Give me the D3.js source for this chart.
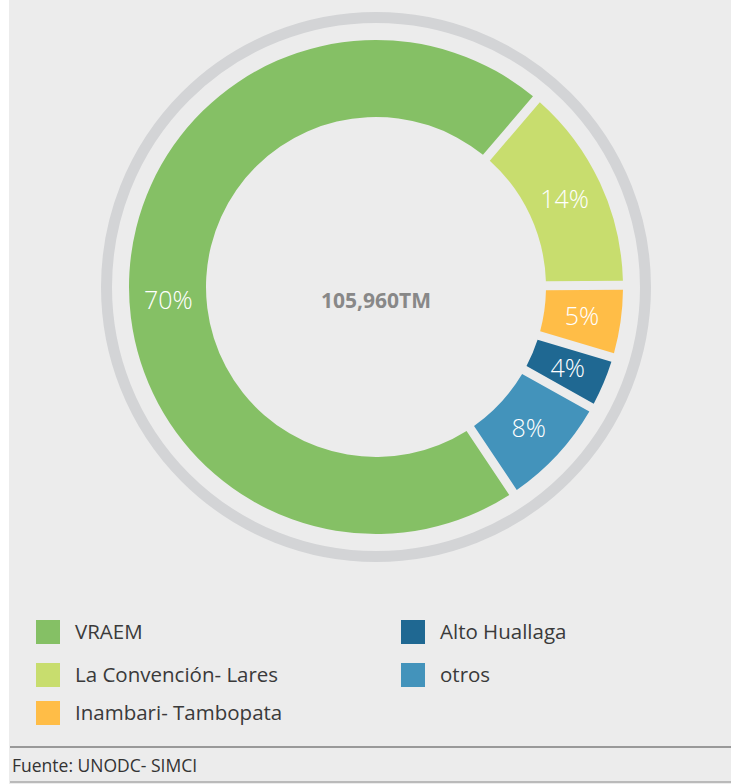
<!DOCTYPE html>
<html lang="es">
<head>
<meta charset="UTF-8">
<title>Producción de cocaína por zona</title>
<script src="https://d3js.org/d3.v7.min.js"></script>
<style>
  body { margin: 0; background: #fff; }
  svg { display: block; }
</style>
</head>
<body>
<div id="chart"></div>
<script>
// data (shares estimated from the arc sizes, labels rounded)
var zonas = ["VRAEM", "La Convención- Lares", "Inambari- Tambopata", "Alto Huallaga", "otros"];
var porcentajes = [70.4, 13.6, 4.7, 3.5, 7.5];
var colores = ["#85c065", "#c8dd6e", "#ffbd47", "#1f6892", "#4393bb"];
var total = "105,960TM";
var fuente = "Fuente: UNODC- SIMCI";

// legend layout: two columns
var leyendaCol = [0, 0, 0, 1, 1];
var leyendaFila = [0, 1, 2, 0, 1];

var width = 731, height = 784;
var cx = 376, cy = 287;
var outerR = 247, innerR = 170, labelR = 208;
// the big slice's label sits a little below its mid angle in the original
var labelNudge = [-7 * Math.PI / 180, 0, 0, 0, 0];

var svg = d3.select("#chart")
    .append("svg")
    .attr("width", width)
    .attr("height", height);

// panel background
svg.append("rect")
    .attr("x", 9).attr("y", 0)
    .attr("width", width - 9).attr("height", height)
    .attr("fill", "#ececec");

var g = svg.append("g")
    .attr("transform", "translate(" + cx + "," + cy + ")");

// outer grey ring
g.append("circle")
    .attr("r", 269.5)
    .attr("fill", "none")
    .attr("stroke", "#d3d4d6")
    .attr("stroke-width", 11);

var start = 146.3 * Math.PI / 180;
var pie = d3.pie()
    .sort(null)
    .startAngle(start)
    .endAngle(start + 2 * Math.PI);

// gaps are cut out of each slice symmetrically, boundaries stay at the true shares
var arc = d3.arc()
    .innerRadius(innerR)
    .outerRadius(outerR)
    .padAngle(0.03);

var arcs = pie(porcentajes);

g.selectAll("path.slice")
    .data(arcs)
    .enter().append("path")
    .attr("class", "slice")
    .attr("d", arc)
    .attr("fill", function(d, i) { return colores[i]; });

g.selectAll("text.pct")
    .data(arcs)
    .enter().append("text")
    .attr("class", "pct")
    .attr("transform", function(d, i) {
        var a = (d.startAngle + d.endAngle) / 2 + labelNudge[i];
        return "translate(" + (labelR * Math.sin(a)) + "," + (-labelR * Math.cos(a)) + ")";
    })
    .attr("text-anchor", "middle")
    .attr("dy", "0.36em")
    .attr("fill", "#fff")
    .style("font-family", "'Open Sans', sans-serif")
    .style("font-weight", 300)
    .style("font-size", "25px")
    .text(function(d) { return Math.round(d.data) + "%"; });

// centre total
g.append("text")
    .attr("x", 0).attr("y", 21)
    .attr("text-anchor", "middle")
    .attr("fill", "#888")
    .style("font-family", "'Open Sans', sans-serif")
    .style("font-weight", 700)
    .style("font-size", "21px")
    .text(total);

// legend
var colX = d3.scaleOrdinal().domain([0, 1]).range([36, 401]);
var rowY = d3.scaleOrdinal().domain([0, 1, 2]).range([620, 663, 701]);

var items = svg.selectAll("g.leg")
    .data(zonas)
    .enter().append("g")
    .attr("class", "leg")
    .attr("transform", function(d, i) {
        return "translate(" + colX(leyendaCol[i]) + "," + rowY(leyendaFila[i]) + ")";
    });

items.append("rect")
    .attr("width", 24).attr("height", 24)
    .attr("fill", function(d, i) { return colores[i]; });

items.append("text")
    .attr("x", 39).attr("y", 19)
    .attr("fill", "#3a3a3a")
    .style("font-family", "'Open Sans', sans-serif")
    .style("font-size", "20.5px")
    .text(function(d) { return d; });

// footer
svg.append("line")
    .attr("x1", 10).attr("x2", width)
    .attr("y1", 747).attr("y2", 747)
    .attr("stroke", "#999").attr("stroke-width", 2);

svg.append("line")
    .attr("x1", 10).attr("x2", width)
    .attr("y1", 782).attr("y2", 782)
    .attr("stroke", "#aaa").attr("stroke-width", 1.5);

svg.append("text")
    .attr("x", 12).attr("y", 772)
    .attr("fill", "#333")
    .style("font-family", "'Open Sans', sans-serif")
    .style("font-size", "17.5px")
    .text(fuente);
</script>
</body>
</html>
